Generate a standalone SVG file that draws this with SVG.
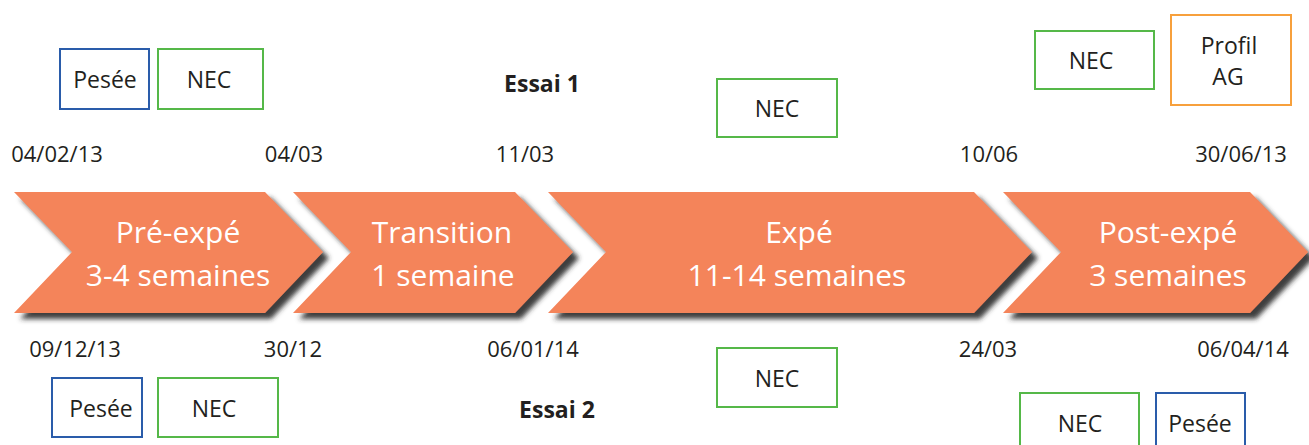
<svg xmlns="http://www.w3.org/2000/svg" width="1309" height="445" viewBox="0 0 1309 445">
<defs>
<filter id="sh" x="-10%" y="-10%" width="130%" height="140%">
<feDropShadow dx="6" dy="6" stdDeviation="2.5" flood-color="#262626" flood-opacity="0.9"/>
</filter>
</defs>
<style>
.chev{fill:#F4845A;filter:url(#sh);}
.ct{font-family:"Open Sans","Noto Sans",sans-serif;font-size:30px;fill:#FFFFFF;text-anchor:middle;}
.t{font-family:"Open Sans","Noto Sans",sans-serif;font-size:22px;fill:#231F20;text-anchor:middle;}
.bt{font-family:"Open Sans","Noto Sans",sans-serif;font-size:23px;fill:#231F20;text-anchor:middle;}
.b{font-family:"Open Sans","Noto Sans",sans-serif;font-size:23px;font-weight:bold;fill:#231F20;text-anchor:middle;}
.blue{fill:#FFFFFF;stroke:#2A5CAA;stroke-width:2;}
.green{fill:#FFFFFF;stroke:#55B848;stroke-width:2;}
.orange{fill:#FFFFFF;stroke:#F7A03C;stroke-width:2;}
</style>
<rect width="1309" height="445" fill="#FFFFFF"/>

<g id="chevron-pre">
<polygon class="chev" points="14,192 265,192 323,252 265,313 14,313 72,252"/>
<text class="ct" x="178" y="243">Pré-expé</text>
<text class="ct" x="178" y="286">3-4 semaines</text>
</g>
<g id="chevron-transition">
<polygon class="chev" points="293,192 515,192 573,252 515,313 293,313 351,252"/>
<text class="ct" x="442" y="243">Transition</text>
<text class="ct" x="443" y="286">1 semaine</text>
</g>
<g id="chevron-expe">
<polygon class="chev" points="548,192 974,192 1032,252 974,313 548,313 606,252"/>
<text class="ct" x="799" y="243">Expé</text>
<text class="ct" x="797" y="286">11-14 semaines</text>
</g>
<g id="chevron-post">
<polygon class="chev" points="1003,192 1250,192 1308,252 1250,313 1003,313 1061,252"/>
<text class="ct" x="1168" y="243">Post-expé</text>
<text class="ct" x="1168" y="286">3 semaines</text>
</g>

<g id="dates-essai1">
<text class="t" x="57" y="162">04/02/13</text>
<text class="t" x="294" y="162">04/03</text>
<text class="t" x="525" y="162">11/03</text>
<text class="t" x="989" y="162">10/06</text>
<text class="t" x="1241" y="162">30/06/13</text>
</g>
<g id="dates-essai2">
<text class="t" x="75" y="357">09/12/13</text>
<text class="t" x="293" y="357">30/12</text>
<text class="t" x="533" y="357">06/01/14</text>
<text class="t" x="988" y="357">24/03</text>
<text class="t" x="1243" y="357">06/04/14</text>
</g>

<g id="label-essai1"><text class="b" x="542" y="92">Essai 1</text></g>
<g id="label-essai2"><text class="b" x="557" y="418">Essai 2</text></g>

<g id="box-pesee-1">
<rect class="blue" x="60" y="49" width="89" height="60"/>
<text class="bt" x="105" y="88">Pesée</text>
</g>
<g id="box-nec-1a">
<rect class="green" x="158" y="49" width="105" height="60"/>
<text class="bt" x="209" y="88">NEC</text>
</g>
<g id="box-nec-1b">
<rect class="green" x="717" y="79" width="120" height="58"/>
<text class="bt" x="777" y="117">NEC</text>
</g>
<g id="box-nec-1c">
<rect class="green" x="1035" y="31" width="119" height="58"/>
<text class="bt" x="1091" y="69">NEC</text>
</g>
<g id="box-profil-ag">
<rect class="orange" x="1171" y="15" width="120" height="90"/>
<text class="bt" x="1229" y="54">Profil</text>
<text class="bt" x="1228" y="85">AG</text>
</g>

<g id="box-pesee-2a">
<rect class="blue" x="52" y="378" width="90" height="59"/>
<text class="bt" x="101" y="417">Pesée</text>
</g>
<g id="box-nec-2a">
<rect class="green" x="158" y="378" width="120" height="59"/>
<text class="bt" x="214" y="417">NEC</text>
</g>
<g id="box-nec-2b">
<rect class="green" x="717" y="348" width="120" height="59"/>
<text class="bt" x="777" y="387">NEC</text>
</g>
<g id="box-nec-2c">
<rect class="green" x="1020" y="393" width="119" height="60"/>
<text class="bt" x="1080" y="432">NEC</text>
</g>
<g id="box-pesee-2b">
<rect class="blue" x="1156" y="393" width="89" height="60"/>
<text class="bt" x="1200" y="432">Pesée</text>
</g>
</svg>
